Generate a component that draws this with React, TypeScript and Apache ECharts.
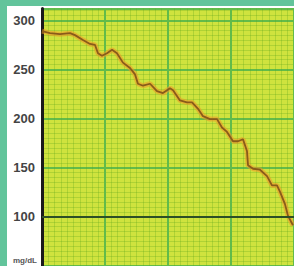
import React, { useEffect, useRef } from "react";
import * as echarts from "echarts";

// time (minutes) and glucose (mg/dL)
const minutes = [0, 7.6, 17.1, 26.7, 31.4, 39, 45.7, 50.5, 53.3, 57.1, 61.9, 66.7, 71.4, 77.1, 83.8, 88.6, 91.4, 96.2, 102.9, 109.5, 115.2, 121.9, 124.8, 131.4, 138.1, 142.9, 148.6, 153.3, 160, 166.7, 171.4, 176.2, 181.9, 186.7, 191.4, 195.2, 196.2, 201, 207.6, 214.3, 219, 223.8, 226.7, 231.4, 234.3, 239];
const glucose = [289, 287, 286, 287, 285, 280, 276, 275, 266.5, 264, 266.5, 270, 266.5, 257, 251.5, 245, 235.5, 233.5, 235.5, 228, 226, 231, 229, 218.5, 216.5, 216.5, 210, 202.5, 199.5, 199.5, 191, 186.5, 177, 177, 179, 167, 152.5, 149, 148, 141.5, 132, 132, 125.5, 113, 101, 91.5];
const yTicks = [100, 150, 200, 250, 300];
const unitLabel = "mg/dL";

export default function App() {
  const ref = useRef<HTMLDivElement>(null);
  useEffect(() => {
    if (!ref.current) return;
    const chart = echarts.init(ref.current, null, { renderer: "svg" });
    const pts = minutes.map((t, i) => [t, glucose[i]]);
    const minor = { show: true, lineStyle: { color: "rgba(95,165,30,0.28)", width: 1 } };
    chart.setOption({
      animation: false,
      grid: {
        left: 35,
        top: 2.6,
        right: 0,
        bottom: -21.2,
        show: true,
        backgroundColor: "#cfe33e",
        borderWidth: 0,
      },
      xAxis: {
        type: "value",
        min: 0,
        max: 240,
        interval: 60,
        axisLine: { show: false },
        axisTick: { show: false },
        axisLabel: { show: false },
        splitLine: { show: true, lineStyle: { color: "#62bb4a", width: 2 } },
        minorTick: { show: false, splitNumber: 10 },
        minorSplitLine: minor,
      },
      yAxis: {
        type: "value",
        min: 50,
        max: 312,
        interval: 50,
        axisLine: { show: true, lineStyle: { color: "#1a1a1a", width: 3 } },
        axisTick: { show: false },
        axisLabel: {
          color: "#444",
          fontWeight: "bold",
          fontSize: 13,
          fontFamily: "Liberation Sans, Arial, sans-serif",
          margin: 7,
          formatter: (v: number) => (yTicks.includes(v) ? String(v) : ""),
        },
        splitLine: { show: true, lineStyle: { color: "#62bb4a", width: 2 } },
        minorTick: { show: false, splitNumber: 10 },
        minorSplitLine: minor,
      },
      series: [
        {
          type: "line",
          data: pts,
          showSymbol: false,
          silent: true,
          lineStyle: { color: "rgba(240,150,40,0.55)", width: 5 },
          markLine: {
            silent: true,
            symbol: "none",
            label: { show: false },
            lineStyle: { color: "#2c4f26", width: 2, type: "solid" },
            data: [{ yAxis: 100 }],
          },
        },
        {
          type: "line",
          data: pts,
          showSymbol: false,
          lineStyle: { color: "#8a5a1a", width: 1.8 },
        },
      ],
      graphic: [
        {
          type: "text",
          right: 257,
          top: 250,
          style: {
            text: unitLabel,
            fill: "#555",
            font: "bold 8px Liberation Sans, Arial, sans-serif",
          },
        },
      ],
    });
    return () => chart.dispose();
  }, []);
  return (
    <div
      style={{
        position: "fixed",
        left: 0,
        top: 0,
        width: 294,
        height: 266,
        background: "#62c49b",
        overflow: "hidden",
      }}
    >
      <div
        ref={ref}
        style={{
          position: "absolute",
          left: 7,
          top: 6,
          width: 287,
          height: 260,
          background: "#ffffff",
        }}
      />
    </div>
  );
}
